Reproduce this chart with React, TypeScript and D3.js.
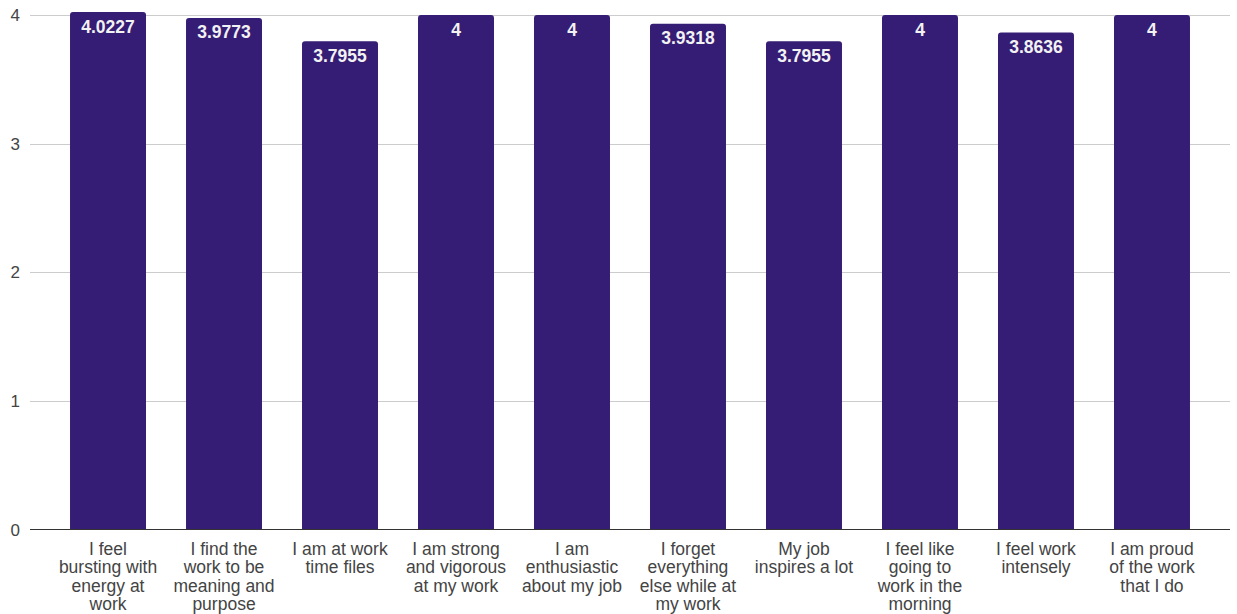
import React from "react";
import * as d3 from "d3";

const categories: string[] = [
  "I feel\nbursting with\nenergy at\nwork",
  "I find the\nwork to be\nmeaning and\npurpose",
  "I am at work\ntime files",
  "I am strong\nand vigorous\nat my work",
  "I am\nenthusiastic\nabout my job",
  "I forget\neverything\nelse while at\nmy work",
  "My job\ninspires a lot",
  "I feel like\ngoing to\nwork in the\nmorning",
  "I feel work\nintensely",
  "I am proud\nof the work\nthat I do",
];

const values: number[] = [4.0227, 3.9773, 3.7955, 4, 4, 3.9318, 3.7955, 4, 3.8636, 4];

const yTicks: number[] = [0, 1, 2, 3, 4];

const WIDTH = 1237;
const HEIGHT = 614;
const PLOT_LEFT = 30;
const PLOT_RIGHT = 1230;
const PLOT_TOP = 15;
const PLOT_BOTTOM = 529.5;

const BAR_COLOR = "#351c75";
const TEXT_COLOR = "#444444";
const FONT = "'Liberation Sans', Arial, sans-serif";

// Bar path with rounded top corners only
function barPath(x: number, y: number, w: number, h: number, r: number): string {
  const rr = Math.min(r, w / 2, h);
  return [
    `M${x},${y + h}`,
    `L${x},${y + rr}`,
    `Q${x},${y} ${x + rr},${y}`,
    `L${x + w - rr},${y}`,
    `Q${x + w},${y} ${x + w},${y + rr}`,
    `L${x + w},${y + h}`,
    "Z",
  ].join(" ");
}

export default function App() {
  const x = d3
    .scaleBand<number>()
    .domain(d3.range(categories.length))
    .range([PLOT_LEFT, PLOT_RIGHT])
    .paddingInner(0.345)
    .paddingOuter(0.345);

  const y = d3.scaleLinear().domain([0, 4]).range([PLOT_BOTTOM, PLOT_TOP]);

  return (
    <svg
      width={WIDTH}
      height={HEIGHT}
      style={{ position: "absolute", left: 0, top: 0, background: "#fff" }}
    >
      {/* horizontal gridlines and y tick labels */}
      {yTicks.map((t) => (
        <g key={t}>
          {t !== 0 && (
            <line
              x1={PLOT_LEFT}
              x2={PLOT_RIGHT}
              y1={Math.round(y(t)) + 0.5}
              y2={Math.round(y(t)) + 0.5}
              stroke="#cccccc"
              strokeWidth={1}
            />
          )}
          <text
            x={20}
            y={y(t)}
            dy="0.36em"
            textAnchor="end"
            fontFamily={FONT}
            fontSize={17}
            fill={TEXT_COLOR}
          >
            {t}
          </text>
        </g>
      ))}

      {/* bars */}
      {values.map((v, i) => {
        const bx = x(i)!;
        const by = y(v);
        return (
          <path
            key={i}
            d={barPath(bx, by, x.bandwidth(), y(0) - by, 3)}
            fill={BAR_COLOR}
          />
        );
      })}

      {/* value labels inside bars */}
      {values.map((v, i) => (
        <text
          key={i}
          x={x(i)! + x.bandwidth() / 2}
          y={y(v) + 20.5}
          textAnchor="middle"
          fontFamily={FONT}
          fontWeight="bold"
          fontSize={17.5}
          fill="#f2f2f2"
        >
          {String(v)}
        </text>
      ))}

      {/* baseline */}
      <line
        x1={PLOT_LEFT}
        x2={PLOT_RIGHT}
        y1={PLOT_BOTTOM}
        y2={PLOT_BOTTOM}
        stroke="#333333"
        strokeWidth={1.2}
      />

      {/* category labels */}
      {categories.map((c, i) => (
        <text
          key={i}
          x={x(i)! + x.bandwidth() / 2}
          y={555}
          textAnchor="middle"
          fontFamily={FONT}
          fontSize={17.5}
          fill={TEXT_COLOR}
        >
          {c.split("\n").map((line, j) => (
            <tspan key={j} x={x(i)! + x.bandwidth() / 2} y={555 + j * 18.4}>
              {line}
            </tspan>
          ))}
        </text>
      ))}
    </svg>
  );
}
